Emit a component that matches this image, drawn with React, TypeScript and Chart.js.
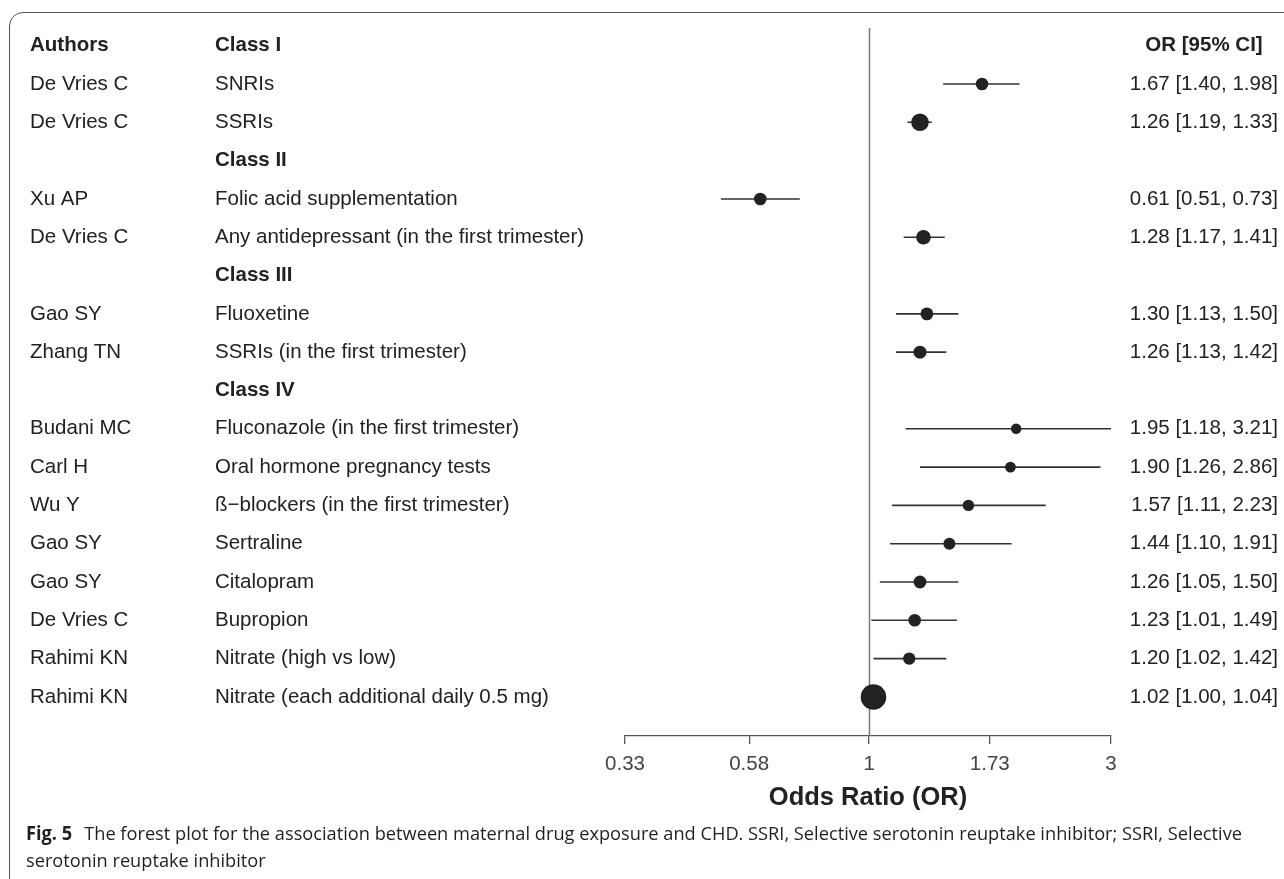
import React, { useEffect, useRef } from 'react';
import { Chart, registerables } from 'chart.js';

Chart.register(...registerables);

// ---------------- data ----------------
const authors = [
  'De Vries C', 'De Vries C', 'Xu AP', 'De Vries C', 'Gao SY', 'Zhang TN',
  'Budani MC', 'Carl H', 'Wu Y', 'Gao SY', 'Gao SY', 'De Vries C', 'Rahimi KN', 'Rahimi KN',
];
const exposures = [
  'SNRIs',
  'SSRIs',
  'Folic acid supplementation',
  'Any antidepressant (in the first trimester)',
  'Fluoxetine',
  'SSRIs (in the first trimester)',
  'Fluconazole (in the first trimester)',
  'Oral hormone pregnancy tests',
  'ß\u2212blockers (in the first trimester)',
  'Sertraline',
  'Citalopram',
  'Bupropion',
  'Nitrate (high vs low)',
  'Nitrate (each additional daily 0.5 mg)',
];
const studyRows = [1, 2, 4, 5, 7, 8, 10, 11, 12, 13, 14, 15, 16, 17];
const classLabels = ['Class I', 'Class II', 'Class III', 'Class IV'];
const classRows = [0, 3, 6, 9];
const oddsRatios = [1.67, 1.26, 0.61, 1.28, 1.30, 1.26, 1.95, 1.90, 1.57, 1.44, 1.26, 1.23, 1.20, 1.02];
const ciLower = [1.40, 1.19, 0.51, 1.17, 1.13, 1.13, 1.18, 1.26, 1.11, 1.10, 1.05, 1.01, 1.02, 1.00];
const ciUpper = [1.98, 1.33, 0.73, 1.41, 1.50, 1.42, 3.21, 2.86, 2.23, 1.91, 1.50, 1.49, 1.42, 1.04];
const markerRadius = [6.3, 8.8, 6.3, 7.3, 6.4, 6.5, 5.2, 5.4, 5.7, 6.0, 6.4, 6.3, 6.2, 12.8];
const axisMin = 0.33;
const axisMax = 3;
const tickValues = [0.33, 0.58, 1, 1.73, 3];
const tickLabels = ['0.33', '0.58', '1', '1.73', '3'];
const headerAuthors = 'Authors';
const headerOR = 'OR [95% CI]';
const axisTitle = 'Odds Ratio (OR)';
const captionBold = 'Fig. 5';
const captionLine1 = 'The forest plot for the association between maternal drug exposure and CHD. SSRI, Selective serotonin reuptake inhibitor; SSRI, Selective';
const captionLine2 = 'serotonin reuptake inhibitor';

// ---------------- layout ----------------
const W = 1284;
const H = 879;
const AUTH_X = 30;
const EXP_X = 215;
const OR_X = 1278;
const OR_HEAD_X = 1204;
const TITLE_Y = 798;
const CAP_X = 26;
const CAP_RIGHT = 1242;
const CAP_GAP = 12;
const CAP_Y1 = 835;
const CAP_Y2 = 862;

const FONT = '"Liberation Sans", Arial, Helvetica, sans-serif';
const CAP_FONT = '"Open Sans", "Noto Sans", sans-serif';

const fmt = (v: number) => v.toFixed(2);

const forestPlugin = {
  id: 'forestText',
  beforeDatasetsDraw(chart: any) {
    const { ctx, chartArea, scales } = chart;
    const px = Math.round(scales.x.getPixelForValue(1)) + 0.5;
    ctx.save();
    ctx.strokeStyle = '#7a7a7a';
    ctx.lineWidth = 1.5;
    ctx.beginPath();
    ctx.moveTo(px, chartArea.top);
    ctx.lineTo(px, chartArea.bottom);
    ctx.stroke();
    ctx.restore();
  },
  afterDraw(chart: any) {
    const { ctx, chartArea, scales } = chart;
    const y = scales.y;
    const reg = `20.5px ${FONT}`;
    const bold = `bold 20.5px ${FONT}`;
    ctx.save();
    ctx.textBaseline = 'middle';
    ctx.fillStyle = '#222';
    const y0 = y.getPixelForValue(0);
    ctx.font = bold;
    ctx.textAlign = 'left';
    ctx.fillText(headerAuthors, AUTH_X, y0);
    classRows.forEach((r, i) => ctx.fillText(classLabels[i], EXP_X, y.getPixelForValue(r)));
    ctx.textAlign = 'center';
    ctx.fillText(headerOR, OR_HEAD_X, y0);
    ctx.font = reg;
    studyRows.forEach((r, i) => {
      const yy = y.getPixelForValue(r);
      ctx.textAlign = 'left';
      ctx.fillText(authors[i], AUTH_X, yy);
      ctx.fillText(exposures[i], EXP_X, yy);
      ctx.textAlign = 'right';
      ctx.fillText(`${fmt(oddsRatios[i])} [${fmt(ciLower[i])}, ${fmt(ciUpper[i])}]`, OR_X, yy);
    });
    // axis title
    ctx.font = `bold 25.5px ${FONT}`;
    ctx.textAlign = 'center';
    ctx.fillText(axisTitle, (chartArea.left + chartArea.right) / 2, TITLE_Y);

    // caption
    ctx.textAlign = 'left';
    ctx.fillStyle = '#231f20';
    const capBold = `bold 19px ${CAP_FONT}`;
    const capReg = `19px ${CAP_FONT}`;
    ctx.font = capBold;
    const w1 = ctx.measureText(captionBold).width;
    ctx.font = capReg;
    const w2 = ctx.measureText(captionLine1).width;
    const s = (CAP_RIGHT - CAP_X - CAP_GAP) / (w1 + w2);
    ctx.save();
    ctx.translate(CAP_X, CAP_Y1);
    ctx.scale(s, 1);
    ctx.font = capBold;
    ctx.fillText(captionBold, 0, 0);
    ctx.restore();
    ctx.save();
    ctx.translate(CAP_X + w1 * s + CAP_GAP, CAP_Y1);
    ctx.scale(s, 1);
    ctx.font = capReg;
    ctx.fillText(captionLine1, 0, 0);
    ctx.restore();
    ctx.save();
    ctx.translate(CAP_X, CAP_Y2);
    ctx.scale(s, 1);
    ctx.font = capReg;
    ctx.fillText(captionLine2, 0, 0);
    ctx.restore();
    ctx.restore();
  },
};

export default function App() {
  const canvasRef = useRef<HTMLCanvasElement | null>(null);

  useEffect(() => {
    const canvas = canvasRef.current;
    if (!canvas) return;

    const pointData = studyRows.map((r, i) => ({ x: oddsRatios[i], y: r }));
    const ciData: any[] = [];
    studyRows.forEach((r, i) => {
      ciData.push({ x: ciLower[i], y: r });
      ciData.push({ x: ciUpper[i], y: r });
      ciData.push({ x: null, y: null });
    });

    const chart = new Chart(canvas, {
      type: 'scatter',
      data: {
        datasets: [
          {
            type: 'scatter',
            data: pointData,
            pointRadius: markerRadius,
            pointHoverRadius: markerRadius,
            pointBackgroundColor: '#222',
            pointBorderWidth: 0,
            pointBorderColor: '#222',
          } as any,
          {
            type: 'line',
            data: ciData,
            borderColor: '#333',
            borderWidth: 1.6,
            pointRadius: 0,
            pointHoverRadius: 0,
            spanGaps: false,
            fill: false,
          } as any,
        ],
      },
      options: {
        responsive: false,
        animation: false,
        events: [],
        layout: { padding: { left: 625, right: 173, top: 28, bottom: 0 } },
        plugins: { legend: { display: false }, tooltip: { enabled: false } },
        scales: {
          x: {
            type: 'logarithmic',
            min: axisMin,
            max: axisMax,
            bounds: 'data',
            afterBuildTicks: (scale: any) => {
              scale.ticks = tickValues.map((v) => ({ value: v }));
              scale.min = axisMin;
              scale.max = axisMax;
            },
            afterFit: (scale: any) => {
              scale.height = H - 736;
            },
            grid: {
              display: true,
              drawOnChartArea: false,
              drawTicks: true,
              tickLength: 8,
              color: '#555',
              lineWidth: 1.3,
            },
            border: { display: true, color: '#555', width: 1.3 },
            ticks: {
              autoSkip: false,
              maxRotation: 0,
              padding: 8,
              color: '#444',
              font: { family: FONT, size: 20.5 },
              callback: (_v: any, idx: number) => tickLabels[idx],
            },
          },
          y: {
            type: 'linear',
            reverse: true,
            min: -0.462,
            max: 18.02,
            display: false,
          },
        },
      } as any,
      plugins: [forestPlugin],
    });

    return () => chart.destroy();
  }, []);

  return (
    <div
      style={{
        position: 'fixed',
        left: 0,
        top: 0,
        width: W,
        height: H,
        background: '#fff',
        overflow: 'hidden',
      }}
    >
      <div
        style={{
          position: 'absolute',
          left: 9,
          top: 12,
          width: 1500,
          height: 1200,
          border: '1.3px solid #555',
          borderRadius: 14,
          boxSizing: 'border-box',
        }}
      />
      <canvas
        ref={canvasRef}
        width={W}
        height={H}
        style={{ position: 'absolute', left: 0, top: 0, display: 'block' }}
      />
    </div>
  );
}
